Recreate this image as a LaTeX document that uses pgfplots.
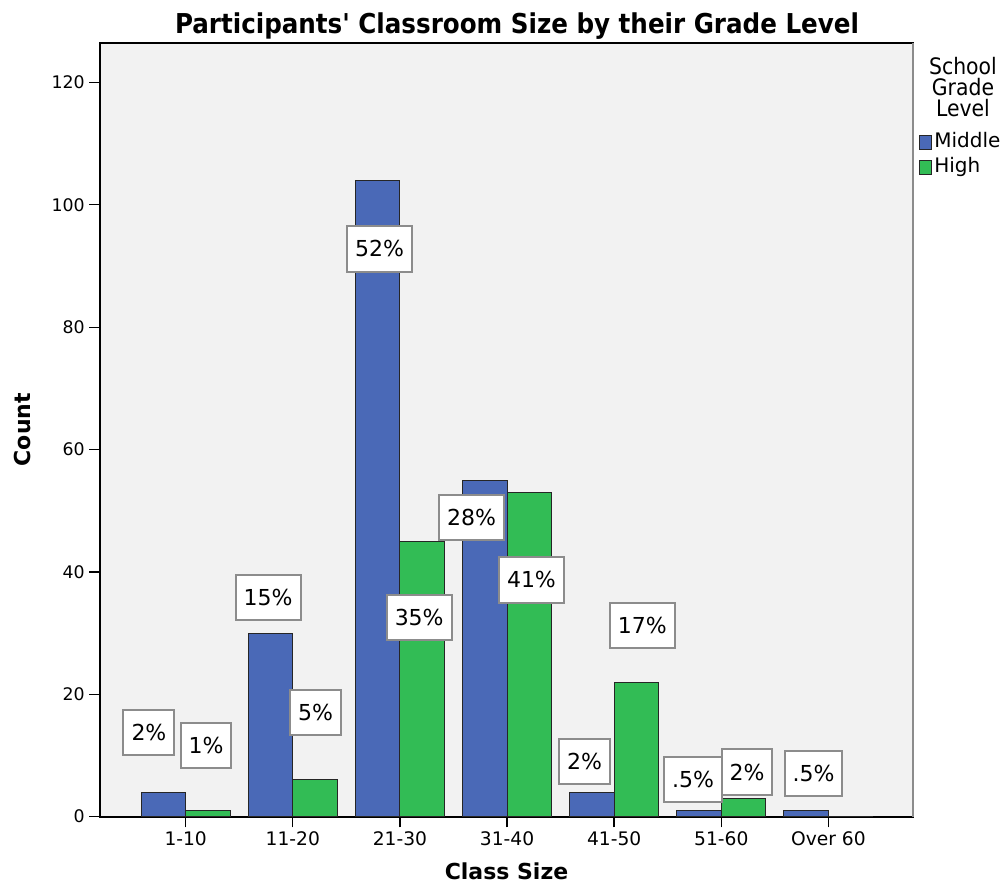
\documentclass[border=0pt]{standalone}
\usepackage{pgfplots}
\pgfplotsset{compat=1.18}
\usepackage{fontspec}
\setmainfont{DejaVu Sans}
\newfontfamily\condfont{DejaVu Sans Condensed}
\definecolor{barblue}{RGB}{74,105,183}
\definecolor{bargreen}{RGB}{50,188,85}
\definecolor{plotbg}{RGB}{242,242,242}
\definecolor{boxgray}{RGB}{140,140,140}
\pgfplotsset{
  mylegend/.style={legend image code/.code={\draw[##1, line width=0.75pt] (0pt,-5.25pt) rectangle (9pt,5.25pt);}}
}
\begin{document}
\begin{tikzpicture}
\useasboundingbox (-75pt,-52pt) rectangle (680.25pt,612.5pt);
\begin{axis}[
  scale only axis, width=609.75pt, height=580.5pt,
  at={(0pt,0pt)}, anchor=south west,
  xmin=-0.8, xmax=6.79, ymin=0, ymax=126.5,
  axis background/.style={fill=plotbg},
  axis line style={black, line width=1.3pt},
  xtick={0,...,6},
  xticklabels={1-10,11-20,21-30,31-40,41-50,51-60,Over 60},
  ytick={0,20,...,120},
  tick pos=left,
  tick align=outside,
  major tick length=8pt,
  tick style={black, line width=1pt},
  /pgf/number format/assume math mode=true,
  xticklabel style={font=\fontsize{14}{16}\selectfont},
  yticklabel style={font=\fontsize{13}{15}\selectfont},
  xlabel={Class Size}, ylabel={Count},
  label style={font=\bfseries\fontsize{16.5}{19}\selectfont},
  xlabel style={at={(0.5,-0.071)}, anchor=center},
  ylabel style={at={(-0.0953,0.5)}, anchor=center},
  title={Participants\textquotesingle{} Classroom Size by their Grade Level},
  title style={font=\condfont\bfseries\fontsize{20.5}{23}\selectfont, at={(0.513,1.0105)}, anchor=center},
  legend style={at={(1.0074,0.887)}, anchor=north west, draw=none, fill=none,
    font=\fontsize{15}{17}\selectfont, inner sep=0pt,
    nodes={inner sep=1.5pt, text height=11pt, text depth=4.75pt}},
  legend cell align=left,
  clip=false,
  after end axis/.code={\draw[boxgray, line width=1.3pt] (rel axis cs:1,0) -- (rel axis cs:1,1);},
]
\addplot[ybar, bar width=0.415, bar shift=-0.2075, fill=barblue, draw=black!85, line width=0.8pt, mylegend]
  coordinates {(0,4) (1,30) (2,104) (3,55) (4,4) (5,1) (6,1)};
\addlegendentry{Middle}
\addplot[ybar, bar width=0.415, bar shift=0.2075, fill=bargreen, draw=black!85, line width=0.8pt, mylegend]
  coordinates {(0,1) (1,6) (2,45) (3,53) (4,22) (5,3) (6,0)};
\addlegendentry{High}
\addplot[only marks, mark=*, mark size=0pt, mark options={draw=none, fill=none}, forget plot,
  nodes near coords={\pgfplotspointmeta\%},
  point meta=explicit symbolic,
  nodes near coords style={anchor=center, fill=white, draw=boxgray, line width=1.5pt,
    font=\fontsize{16.5}{19}\selectfont, minimum height=34pt, inner xsep=6pt}]
  table[meta=label, row sep=\\] {
  x y label\\
  -0.343 13.8 2\\
  0.19 11.6 1\\
  0.77 35.8 15\\
  1.212 17.0 5\\
  1.811 92.8 52\\
  2.18 32.6 35\\
  2.67 48.9 28\\
  3.228 38.7 41\\
  3.724 9.0 2\\
  4.262 31.2 17\\
  4.737 6.1 .5\\
  5.24 7.3 2\\
  5.861 7.1 .5\\
  };
\node[font=\condfont\fontsize{17}{16}\selectfont, align=center, anchor=center] at (rel axis cs:1.0615,0.9428) {School\\Grade\\Level};
\end{axis}
\end{tikzpicture}
\end{document}
